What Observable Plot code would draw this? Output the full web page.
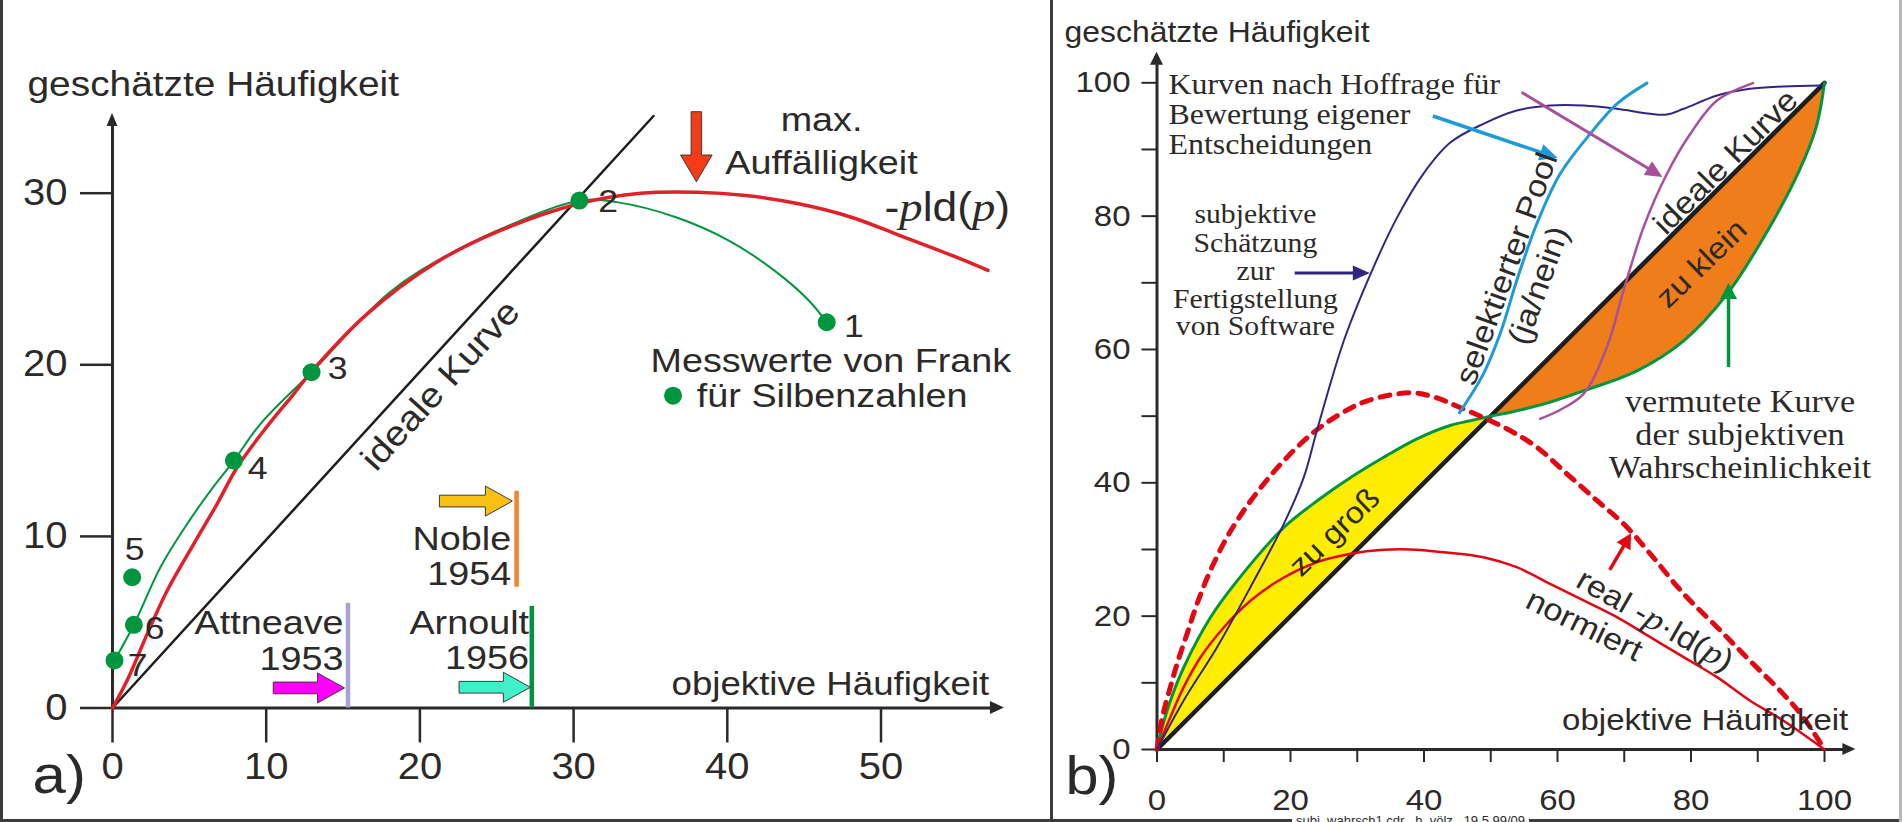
<!DOCTYPE html>
<html><head><meta charset="utf-8">
<script src="https://cdn.jsdelivr.net/npm/d3@7"></script>
<script src="https://cdn.jsdelivr.net/npm/@observablehq/plot@0.6"></script>
<style>
html,body{margin:0;padding:0;background:#fff;overflow:hidden;}
#wrap{position:relative;width:1902px;height:822px;overflow:hidden;background:#fff;}
#pa{position:absolute;left:0;top:0;}
#pb{position:absolute;left:1050px;top:0;}
.fr{position:absolute;background:#3c3c3b;}
#footer{position:absolute;left:1292px;top:813px;font:13px "Liberation Sans",Arial,sans-serif;color:#2b2a29;background:#fff;padding:0 4px;white-space:pre;line-height:16px;}
</style></head>
<body><div id="wrap"><div id="pa"></div><div id="pb"></div>
<div class="fr" style="left:0;top:0;width:3px;height:822px"></div>
<div class="fr" style="left:0;top:819px;width:1902px;height:3px"></div>
<div class="fr" style="left:1050px;top:0;width:3px;height:822px"></div>
<div class="fr" style="left:1899px;top:0;width:3px;height:822px;background:#b8b8b8"></div>
<div id="footer">subj_wahrsch1.cdr   h. völz   19.5.99/09</div>
</div>
<script>
// ================= DATA : panel a =================
const aXTicks = [0, 10, 20, 30, 40, 50];
const aYTicks = [0, 10, 20, 30];
const aRedX = [0, 0.95, 2.26, 3.56, 5.29, 6.81, 8.11, 9.85, 11.8, 12.95, 16.57, 20.9, 25.24, 30.38, 34.37, 38.02, 41.2, 44.64, 48.07, 51.49, 54.9, 56.96];
const aRedY = [0, 1.6, 4.32, 6.85, 9.57, 11.9, 14.03, 16.17, 18.31, 19.6, 22.97, 25.88, 27.83, 29.4, 30.0, 30.06, 29.87, 29.38, 28.6, 27.44, 26.27, 25.5];
const aGreenX = [0.13, 1.39, 3.12, 4.86, 6.38, 7.9, 9.63, 12.95, 18, 22, 26, 30.38, 32.8, 36.66, 40.1, 43.05, 45.3, 46.47];
const aGreenY = [2.77, 4.85, 8.2, 10.73, 12.67, 14.42, 16.56, 19.57, 24.2, 26.5, 28.2, 29.57, 29.48, 28.6, 27.24, 25.5, 23.75, 22.48];
const aIdealX = [0, 35.2];
const aIdealY = [0, 34.5];
const aDotLabels = ["1", "2", "3", "4", "5", "6", "7"];
const aDotX = [46.47, 30.38, 12.95, 7.9, 1.28, 1.39, 0.13];
const aDotY = [22.48, 29.57, 19.57, 14.42, 7.62, 4.85, 2.77];
const aDotLabelX = [47.6, 31.6, 14.0, 8.8, 0.8, 2.1, 1.0];
const aDotLabelY = [21.61, 28.89, 19.2, 13.37, 8.6, 4.05, 1.89];
const aLegendDotX = [36.47];
const aLegendDotY = [18.2];
const aStudyNames = ["Noble", "Attneave", "Arnoult"];
const aStudyYears = ["1954", "1953", "1956"];
const aStudyX = [26.29, 15.32, 27.28];
const aStudyY1 = [7.04, 0, 0];
const aStudyY2 = [12.63, 6.1, 5.92];
const aStudyLabelX = [25.94, 15.03, 27.1];
const aStudyNameY = [9.18, 4.32, 4.32];
const aStudyYearY = [7.14, 2.19, 2.28];
const aArrowNames = ["max", "Noble", "Attneave", "Arnoult"];
const aArrowX1 = [38.02, 21.3, 10.49, 22.58];
const aArrowY1 = [34.72, 12.03, 1.14, 1.18];
const aArrowX2 = [38.02, 26.05, 15.13, 27.22];
const aArrowY2 = [30.64, 12.03, 1.14, 1.18];

// ================= DATA : panel b =================
const bTicks = [0, 10, 20, 30, 40, 50, 60, 70, 80, 90, 100];
const bTickLabels = [0, 20, 40, 60, 80, 100];
const bGreenUpX = [0, 0.52, 2.02, 4.0, 8.0, 12.0, 19.0, 24, 29, 33.9, 38.95, 43.9, 46.9, 50];
const bGreenUpY = [0, 2.35, 7.35, 12.3, 19.8, 25.3, 33.3, 37.3, 40.8, 43.8, 46.6, 48.6, 49.3, 50];
const bGreenLoX = [50, 53.9, 58.9, 63.9, 71.9, 78.9, 85.4, 91.3, 96.3, 98.8, 100];
const bGreenLoY = [50, 50.8, 52.1, 53.8, 56.8, 61.3, 68.3, 77.5, 87.0, 93.5, 100];
const bIdealX = [0, 100];
const bIdealY = [0, 100];
const bRedX = [0, 2.0, 4.0, 6.5, 10, 14, 19, 24, 29, 34, 37.9, 42.9, 48.9, 53.9, 58.9, 63.9, 68.9, 73.9, 78.9, 83.9, 88.8, 93.8, 100];
const bRedY = [0, 4.85, 9.35, 13.8, 18.3, 22.3, 25.8, 28.1, 29.35, 29.95, 30, 29.6, 28.85, 27.35, 24.85, 22.35, 19.85, 16.85, 13.85, 10.85, 7.35, 4.35, 0];
const bDashX = [0, 0.8, 2.0, 3.0, 4.5, 6.0, 8.0, 10.5, 13, 16, 19.5, 23.5, 27.5, 31.5, 37.8, 41.4, 45.4, 52.4, 56.9, 61.4, 65.9, 69.9, 73.9, 78.9, 83.9, 88.8, 93.8, 96.8, 100];
const bDashY = [0, 4.85, 9.35, 12.85, 17.35, 21.85, 26.85, 31.85, 35.85, 39.85, 43.85, 47.6, 50.35, 52.3, 53.5, 52.9, 51.3, 48.1, 45.35, 41.35, 37.35, 33.85, 29.35, 23.35, 18.35, 13.35, 8.35, 4.85, 0];
const bNavyX = [0, 4, 9, 14, 19, 22, 24, 28, 32, 36, 39.9, 43.9, 48.9, 53.9, 58.9, 63.9, 68.9, 73.9, 76.4, 78.9, 83.9, 88.8, 93.8, 99.6];
const bNavyY = [0, 7.35, 15.35, 24.35, 33.85, 40.85, 48.0, 61.35, 71.35, 79.85, 86.35, 91.0, 93.85, 95.85, 96.6, 96.6, 96.1, 95.35, 95.25, 96.1, 98.1, 99.1, 99.45, 99.6];
const bBlueX = [45.3, 48.9, 51.4, 53.9, 56.9, 60.4, 64.9, 68.9, 73.4];
const bBlueY = [50.5, 56.35, 62.35, 70.35, 78.85, 86.35, 92.35, 96.85, 99.95];
const bMagX = [57.4, 60.5, 63.9, 67.4, 69.9, 72.9, 76.4, 79.9, 83.9, 89.3];
const bMagY = [49.6, 51.0, 53.35, 60.35, 68.85, 78.35, 86.35, 92.35, 97.35, 99.95];
const bArrowNames = ["navy", "blue", "magenta", "green", "red"];
const bArrowX1 = [20.7, 41.4, 54.7, 85.7, 67.9];
const bArrowY1 = [71.4, 94.95, 98.5, 57.3, 26.85];
const bArrowX2 = [31.96, 60.1, 75.8, 85.7, 71.1];
const bArrowY2 = [71.4, 88.65, 85.8, 69.9, 32.35];
const bHoffrageLines = ["Kurven nach Hoffrage für", "Bewertung eigener", "Entscheidungen"];
const bHoffrageY = [98.35, 93.85, 89.35];
const bSubjLines = ["subjektive", "Schätzung", "zur", "Fertigstellung", "von Software"];
const bSubjY = [78.9, 74.6, 70.35, 66.15, 62.1];
const bVermLines = ["vermutete Kurve", "der subjektiven", "Wahrscheinlichkeit"];
const bVermY = [50.6, 45.6, 40.65];

// ================= helpers =================
const ink = "#2b2a29";
const sans = '"Liberation Sans", Arial, Helvetica, sans-serif';
const serif = '"Liberation Serif", "Times New Roman", Times, serif';
const zip = (X, Y) => X.map((x, i) => ({x, y: Y[i]}));

// filled arrow drawn through the plot's own scales
function arrowMark(a, st) {
  return (index, scales) => {
    const x1 = scales.x(a.x1), y1 = scales.y(a.y1), x2 = scales.x(a.x2), y2 = scales.y(a.y2);
    const dx = x2 - x1, dy = y2 - y1, L = Math.hypot(dx, dy) || 1;
    const ux = dx / L, uy = dy / L, nx = -uy, ny = ux;
    const hl = st.headLength, hw = st.headWidth / 2, sw = (st.shaft || 0) / 2;
    const bx = x2 - ux * hl, by = y2 - uy * hl;
    const g = d3.create("svg:g");
    let pts;
    if (st.shaft) {
      pts = [[x1 + nx * sw, y1 + ny * sw], [bx + nx * sw, by + ny * sw], [bx + nx * hw, by + ny * hw], [x2, y2],
             [bx - nx * hw, by - ny * hw], [bx - nx * sw, by - ny * sw], [x1 - nx * sw, y1 - ny * sw]];
    } else {
      if (st.lineWidth) {
        g.append("line").attr("x1", x1).attr("y1", y1).attr("x2", bx + ux * 2).attr("y2", by + uy * 2)
          .attr("stroke", st.fill).attr("stroke-width", st.lineWidth);
      }
      pts = [[bx + nx * hw, by + ny * hw], [x2, y2], [bx - nx * hw, by - ny * hw]];
    }
    g.append("path").attr("d", "M" + pts.map(p => p.join(",")).join("L") + "Z")
      .attr("fill", st.fill).attr("stroke", st.stroke || "none").attr("stroke-width", st.strokeWidth || 0);
    return g.node();
  };
}
function richText(svg, plain, parts, size) {
  svg.querySelectorAll("text").forEach(t => {
    if (t.textContent === plain) {
      t.textContent = "";
      for (const [s, kind] of parts) {
        const ts = document.createElementNS("http://www.w3.org/2000/svg", "tspan");
        ts.textContent = s;
        if (kind === "i") { ts.setAttribute("font-family", serif); ts.setAttribute("font-style", "italic"); ts.setAttribute("font-size", size); }
        t.appendChild(ts);
      }
    }
  });
}
function stretch(svg, kSans, kSerif) {
  svg.querySelectorAll("text").forEach(t => {
    const L = t.getComputedTextLength();
    if (!(L > 0)) return;
    const isSerif = /Serif|Times/.test(getComputedStyle(t).fontFamily) && !t.querySelector("tspan");
    const k = isSerif ? kSerif : kSans;
    t.setAttribute("textLength", L * k); t.setAttribute("lengthAdjust", "spacingAndGlyphs");
  });
}

// ================= panel a =================
const aArrowStyle = {
  max: {fill: "#f23d17", shaft: 10.5, headWidth: 31.6, headLength: 26.7},
  Noble: {fill: "#f8c012", shaft: 11.7, headWidth: 30, headLength: 27},
  Attneave: {fill: "#ff00ff", shaft: 11.7, headWidth: 30, headLength: 27},
  Arnoult: {fill: "#40f0c8", shaft: 11.7, headWidth: 30, headLength: 27}
};
const aStudyColor = {Noble: "#f0862d", Attneave: "#a9a3d4", Arnoult: "#00923f"};
const aStudies = aStudyNames.map((n, i) => ({name: n, year: aStudyYears[i], x: aStudyX[i], y1: aStudyY1[i], y2: aStudyY2[i], lx: aStudyLabelX[i], ny: aStudyNameY[i], yy: aStudyYearY[i]}));
const aDots = aDotX.map((x, i) => ({x, y: aDotY[i], label: aDotLabels[i], lx: aDotLabelX[i], ly: aDotLabelY[i]}));
const aArrows = aArrowNames.map((n, i) => ({name: n, x1: aArrowX1[i], y1: aArrowY1[i], x2: aArrowX2[i], y2: aArrowY2[i]}));

const plotA = Plot.plot({
  width: 1050, height: 822,
  marginLeft: 112, marginRight: 169.5, marginTop: 192.7, marginBottom: 114.5,
  x: {domain: [0, 50]}, y: {domain: [0, 30]},
  style: {fontFamily: sans, fontSize: "36px", color: ink, background: "transparent", overflow: "visible"},
  marks: [
    Plot.axisX({ticks: aXTicks, anchor: "bottom", tickSize: 35, tickPadding: 10, strokeWidth: 2.5, fontSize: 36, label: null, tickFormat: d => String(d)}),
    Plot.axisY({ticks: aYTicks, anchor: "left", tickSize: 32, tickPadding: 13, strokeWidth: 2.5, fontSize: 36, label: null, tickFormat: d => String(d)}),
    Plot.ruleY([0], {x1: 0, x2: 57.3, stroke: ink, strokeWidth: 3}),
    Plot.ruleX([0], {y1: 0, y2: 34.0, stroke: ink, strokeWidth: 3}),
    arrowMark({x1: 57, y1: 0, x2: 58.03, y2: 0}, {fill: ink, headWidth: 13, headLength: 14}),
    arrowMark({x1: 0, y1: 33, x2: 0, y2: 34.64}, {fill: ink, headWidth: 11, headLength: 13}),
    Plot.line(zip(aIdealX, aIdealY), {x: "x", y: "y", stroke: "#1d1d1b", strokeWidth: 2.5}),
    Plot.line(zip(aGreenX, aGreenY), {x: "x", y: "y", stroke: "#00963f", strokeWidth: 2, curve: "catmull-rom"}),
    Plot.line(zip(aRedX, aRedY), {x: "x", y: "y", stroke: "#e3202a", strokeWidth: 3.5, curve: "catmull-rom"}),
    Plot.dot(aDots, {x: "x", y: "y", r: 9, fill: "#00963f", stroke: "none"}),
    Plot.dot(zip(aLegendDotX, aLegendDotY), {x: "x", y: "y", r: 9, fill: "#00963f", stroke: "none"}),
    Plot.text(aDots, {x: "lx", y: "ly", text: "label", textAnchor: "start", lineAnchor: "bottom", fontSize: 32, fill: ink}),
    Plot.ruleX(aStudies, {x: "x", y1: "y1", y2: "y2", stroke: d => aStudyColor[d.name], strokeWidth: 4.5}),
    Plot.text(aStudies, {x: "lx", y: "ny", text: "name", textAnchor: "end", lineAnchor: "bottom", fontSize: 34, fill: ink}),
    Plot.text(aStudies, {x: "lx", y: "yy", text: "year", textAnchor: "end", lineAnchor: "bottom", fontSize: 34, fill: ink}),
    ...aArrows.map(a => arrowMark(a, {...aArrowStyle[a.name], stroke: "#3a3a3a", strokeWidth: 1})),
    Plot.text([{t: "geschätzte Häufigkeit", x: -5.53, y: 35.69}], {x: "x", y: "y", text: "t", textAnchor: "start", lineAnchor: "bottom", fontSize: 35, fill: ink}),
    Plot.text([{t: "objektive Häufigkeit", x: 57.04, y: 0.73}], {x: "x", y: "y", text: "t", textAnchor: "end", lineAnchor: "bottom", fontSize: 33, fill: ink}),
    Plot.text([{t: "max.", x: 46.13, y: 33.65}, {t: "Auffälligkeit", x: 46.13, y: 31.13}], {x: "x", y: "y", text: "t", textAnchor: "middle", lineAnchor: "bottom", fontSize: 34, fill: ink}),
    Plot.text([{t: "-pld(p)", x: 50.23, y: 28.4}], {x: "x", y: "y", text: "t", textAnchor: "start", lineAnchor: "bottom", fontSize: 40, fill: ink}),
    Plot.text([{t: "Messwerte von Frank", x: 35.0, y: 19.57}, {t: "für Silbenzahlen", x: 38.02, y: 17.53}], {x: "x", y: "y", text: "t", textAnchor: "start", lineAnchor: "bottom", fontSize: 34, fill: ink}),
    Plot.text([{t: "ideale Kurve", x: 21.34, y: 18.8}], {x: "x", y: "y", text: "t", textAnchor: "middle", lineAnchor: "middle", rotate: -47.6, fontSize: 35, fill: ink}),
    Plot.text([{t: "a)", x: -5.2, y: -4.98}], {x: "x", y: "y", text: "t", textAnchor: "start", lineAnchor: "bottom", fontSize: 54, fill: ink})
  ]
});
document.getElementById("pa").appendChild(plotA);
richText(plotA, "-pld(p)", [["-", "s"], ["p", "i"], ["ld(", "s"], ["p", "i"], [")", "s"]], 42);
stretch(plotA, 1.11, 1.0);

// ================= panel b =================
const green = "#009640", red = "#e30613";
const bArrowStyle = {
  navy: {fill: "#312783", lineWidth: 3, headWidth: 15, headLength: 17},
  blue: {fill: "#1e9bd7", lineWidth: 3.5, headWidth: 17, headLength: 18},
  magenta: {fill: "#a94f9c", lineWidth: 3, headWidth: 16, headLength: 17},
  green: {fill: green, lineWidth: 3.5, headWidth: 17, headLength: 16},
  red: {fill: red, lineWidth: 3.5, headWidth: 16, headLength: 15}
};
const bArrows = bArrowNames.map((n, i) => ({name: n, x1: bArrowX1[i], y1: bArrowY1[i], x2: bArrowX2[i], y2: bArrowY2[i]}));
const bGreenUp = zip(bGreenUpX, bGreenUpY), bGreenLo = zip(bGreenLoX, bGreenLoY);

const plotB = Plot.plot({
  width: 852, height: 822,
  marginLeft: 106.5, marginRight: 78, marginTop: 82.3, marginBottom: 73,
  x: {domain: [0, 100]}, y: {domain: [0, 100]},
  style: {fontFamily: sans, fontSize: "30px", color: ink, background: "transparent", overflow: "visible"},
  marks: [
    Plot.areaY(bGreenUp, {x: "x", y1: "x", y2: "y", fill: "#ffed00", curve: "catmull-rom"}),
    Plot.areaY(bGreenLo, {x: "x", y1: "y", y2: "x", fill: "#ef7d1a", curve: "catmull-rom"}),
    Plot.axisX({ticks: bTicks, anchor: "bottom", tickSize: 13, tickPadding: 26, strokeWidth: 2, fontSize: 30, label: null, tickFormat: d => bTickLabels.includes(d) ? String(d) : ""}),
    Plot.axisY({ticks: bTicks, anchor: "left", tickSize: 15, tickPadding: 11.5, strokeWidth: 2, fontSize: 30, label: null, tickFormat: d => bTickLabels.includes(d) ? String(d) : ""}),
    Plot.ruleY([0], {x1: 0, x2: 103, stroke: ink, strokeWidth: 3}),
    Plot.ruleX([0], {y1: 0, y2: 103, stroke: ink, strokeWidth: 3}),
    arrowMark({x1: 103, y1: 0, x2: 104.7, y2: 0}, {fill: ink, headWidth: 12, headLength: 13}),
    arrowMark({x1: 0, y1: 103, x2: 0, y2: 104.6}, {fill: ink, headWidth: 13, headLength: 13}),
    Plot.line(zip(bIdealX, bIdealY), {x: "x", y: "y", stroke: "#1d1d1b", strokeWidth: 4.5}),
    Plot.line(bGreenUp, {x: "x", y: "y", stroke: green, strokeWidth: 3, curve: "catmull-rom"}),
    Plot.line(bGreenLo, {x: "x", y: "y", stroke: green, strokeWidth: 3, curve: "catmull-rom"}),
    Plot.line(zip(bRedX, bRedY), {x: "x", y: "y", stroke: red, strokeWidth: 2.5, curve: "catmull-rom"}),
    Plot.line(zip(bDashX, bDashY), {x: "x", y: "y", stroke: red, strokeWidth: 5, strokeDasharray: "10,9", curve: "catmull-rom"}),
    Plot.line(zip(bNavyX, bNavyY), {x: "x", y: "y", stroke: "#312783", strokeWidth: 2, curve: "catmull-rom"}),
    Plot.line(zip(bBlueX, bBlueY), {x: "x", y: "y", stroke: "#1e9bd7", strokeWidth: 3, curve: "catmull-rom"}),
    Plot.line(zip(bMagX, bMagY), {x: "x", y: "y", stroke: "#a94f9c", strokeWidth: 2.5, curve: "catmull-rom"}),
    ...bArrows.map(a => arrowMark(a, bArrowStyle[a.name])),
    Plot.text([{t: "geschätzte Häufigkeit", x: -13.85, y: 106.05}], {x: "x", y: "y", text: "t", textAnchor: "start", lineAnchor: "bottom", fontSize: 29, fill: ink}),
    Plot.text([{t: "objektive Häufigkeit", x: 103.56, y: 2.85}], {x: "x", y: "y", text: "t", textAnchor: "end", lineAnchor: "bottom", fontSize: 30, fill: ink}),
    Plot.text(bHoffrageLines.map((t, i) => ({t, y: bHoffrageY[i]})), {x: 1.72, y: "y", text: "t", textAnchor: "start", lineAnchor: "bottom", fontFamily: serif, fontSize: 29, fill: ink}),
    Plot.text(bSubjLines.map((t, i) => ({t, y: bSubjY[i]})), {x: 14.75, y: "y", text: "t", textAnchor: "middle", lineAnchor: "bottom", fontFamily: serif, fontSize: 27, fill: ink}),
    Plot.text(bVermLines.map((t, i) => ({t, y: bVermY[i]})), {x: 87.34, y: "y", text: "t", textAnchor: "middle", lineAnchor: "bottom", fontFamily: serif, fontSize: 31, fill: ink}),
    Plot.text([{t: "selektierter Pool", x: 52.4, y: 72.1}, {t: "(ja/nein)", x: 57.2, y: 69.6}], {x: "x", y: "y", text: "t", textAnchor: "middle", lineAnchor: "middle", rotate: -70, fontSize: 31, fill: ink}),
    Plot.text([{t: "ideale Kurve", x: 85.2, y: 88.1}], {x: "x", y: "y", text: "t", textAnchor: "middle", lineAnchor: "middle", rotate: -45, fontSize: 31, fill: ink}),
    Plot.text([{t: "zu klein", x: 81.6, y: 72.85}], {x: "x", y: "y", text: "t", textAnchor: "middle", lineAnchor: "middle", rotate: -44, fontSize: 30, fill: ink}),
    Plot.text([{t: "zu groß", x: 26.6, y: 32.6}], {x: "x", y: "y", text: "t", textAnchor: "middle", lineAnchor: "middle", rotate: -44, fontSize: 30, fill: ink}),
    Plot.text([{t: "real -p·ld(p)", x: 74.6, y: 19.35}], {x: "x", y: "y", text: "t", textAnchor: "middle", lineAnchor: "middle", rotate: 29.7, fontSize: 31, fill: ink}),
    Plot.text([{t: "normiert", x: 64.0, y: 18.6}], {x: "x", y: "y", text: "t", textAnchor: "middle", lineAnchor: "middle", rotate: 26, fontSize: 31, fill: ink}),
    Plot.text([{t: "b)", x: -13.7, y: -6.6}], {x: "x", y: "y", text: "t", textAnchor: "start", lineAnchor: "bottom", fontSize: 54, fill: ink})
  ]
});
document.getElementById("pb").appendChild(plotB);
richText(plotB, "real -p·ld(p)", [["real ", "s"], ["-", "s"], ["p", "i"], ["·ld(", "s"], ["p", "i"], [")", "s"]], 33);
stretch(plotB, 1.1, 1.1);
</script></body></html>
